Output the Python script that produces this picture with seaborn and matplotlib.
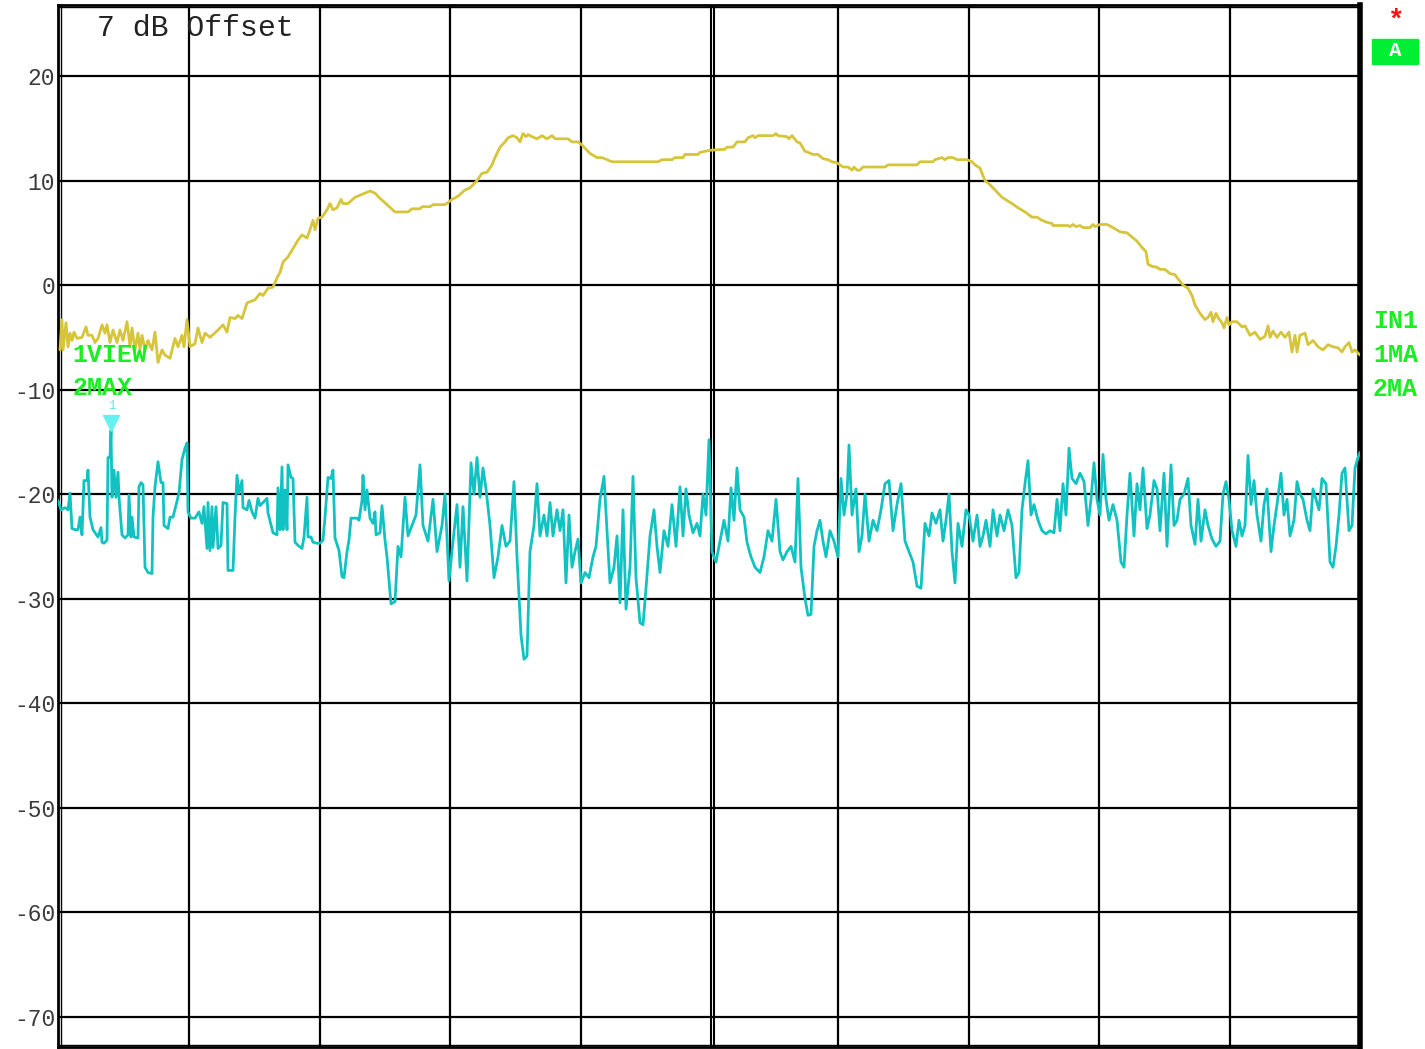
import numpy as np
import pandas as pd
import matplotlib
matplotlib.use("Agg")
import matplotlib.pyplot as plt
import seaborn as sns

# ---------------- data ----------------
# sweep position (screen column units) and level in dB
yellow_x = [60, 62, 63, 66, 68, 70, 72, 74, 77, 82, 86, 88, 92, 95, 98, 102, 105, 107, 110, 113, 117, 120, 123, 127,
            130, 132, 135, 138, 140, 142, 145, 148, 152, 155, 158, 162, 165, 170, 175, 178, 182, 184, 187, 190, 195,
            198, 202, 205, 210, 218, 223, 227, 230, 235, 238, 242, 247, 255, 260, 263, 268, 273, 277, 280, 283, 288,
            293, 298, 302, 307, 310, 313, 315, 318, 322, 327, 330, 333, 337, 341, 343, 348, 355, 360, 365, 370, 375,
            380, 387, 395, 408, 412, 420, 422, 430, 433, 445, 448, 452, 458, 465, 470, 477, 482, 487, 492, 495, 500,
            505, 508, 513, 517, 520, 523, 526, 528, 532, 537, 542, 547, 552, 555, 568, 572, 578, 582, 590, 597, 602,
            607, 612, 658, 662, 672, 675, 683, 685, 698, 700, 710, 725, 727, 733, 737, 745, 748, 753, 755, 758, 773,
            776, 778, 787, 789, 792, 797, 800, 805, 808, 813, 818, 823, 828, 832, 837, 840, 843, 848, 852, 854, 857,
            860, 863, 885, 888, 917, 920, 933, 935, 942, 945, 948, 953, 957, 967, 972, 975, 980, 982, 985, 990, 997,
            1002, 1007, 1012, 1018, 1025, 1032, 1037, 1042, 1047, 1052, 1053, 1068, 1070, 1073, 1076, 1080, 1083,
            1090, 1093, 1095, 1100, 1107, 1113, 1120, 1127, 1132, 1137, 1142, 1146, 1148, 1152, 1157, 1160, 1165,
            1170, 1175, 1178, 1183, 1188, 1192, 1195, 1200, 1205, 1208, 1211, 1213, 1216, 1218, 1222, 1224, 1227,
            1229, 1232, 1237, 1242, 1245, 1250, 1255, 1260, 1265, 1268, 1270, 1273, 1277, 1281, 1285, 1289, 1292,
            1295, 1297, 1300, 1305, 1308, 1313, 1318, 1323, 1328, 1333, 1338, 1342, 1345, 1349, 1352, 1355, 1360]
yellow_db = [-6.2, -3.3, -6.2, -3.6, -5.9, -4.6, -5.3, -4.5, -5.1, -5.0, -4.0, -4.8, -4.8, -5.5, -5.1, -3.8, -4.6, -3.8,
             -5.5, -4.3, -5.5, -4.3, -5.3, -3.5, -5.9, -4.1, -6.2, -4.6, -6.2, -4.8, -6.2, -5.3, -6.2, -4.5, -7.4,
             -6.2, -6.7, -7.0, -5.1, -5.9, -4.8, -5.9, -3.3, -5.9, -5.6, -4.1, -5.5, -4.6, -5.0, -4.3, -3.8, -4.5,
             -3.1, -3.2, -2.9, -3.2, -1.7, -1.4, -0.8, -1.0, -0.3, -0.2, 0.7, 1.2, 2.2, 2.7, 3.5, 4.3, 4.8, 4.5, 5.3,
             6.2, 5.3, 6.4, 6.5, 7.2, 7.8, 7.2, 7.4, 8.2, 7.8, 7.8, 8.4, 8.6, 8.8, 9.0, 8.8, 8.3, 7.7, 7.0, 7.0, 7.3,
             7.3, 7.5, 7.5, 7.7, 7.7, 7.9, 8.2, 8.5, 9.1, 9.3, 10.0, 10.7, 10.8, 11.5, 12.2, 13.2, 13.7, 14.1, 14.3,
             14.1, 13.7, 14.5, 14.2, 14.4, 14.2, 14.0, 14.3, 14.0, 14.3, 14.0, 14.0, 13.7, 13.7, 13.4, 12.6, 12.2,
             12.2, 12.0, 11.8, 11.8, 12.0, 12.0, 12.2, 12.2, 12.5, 12.5, 12.7, 12.9, 13.0, 13.2, 13.2, 13.7, 13.7,
             14.1, 14.3, 14.1, 14.3, 14.3, 14.5, 14.3, 14.2, 14.0, 14.3, 13.7, 13.6, 12.8, 12.7, 12.5, 12.5, 12.1,
             12.0, 11.8, 11.7, 11.5, 11.3, 11.3, 11.0, 11.3, 11.0, 11.0, 11.3, 11.3, 11.5, 11.5, 11.8, 11.8, 12.0,
             12.2, 12.0, 12.2, 12.2, 12.0, 12.0, 11.8, 11.5, 11.2, 10.7, 10.0, 9.6, 8.9, 8.4, 8.1, 7.8, 7.4, 7.0,
             6.5, 6.5, 6.2, 6.0, 5.9, 5.7, 5.7, 5.6, 5.8, 5.6, 5.7, 5.5, 5.5, 5.8, 5.6, 5.8, 5.8, 5.5, 5.1, 5.0, 4.6,
             4.2, 3.6, 3.2, 2.0, 1.8, 1.7, 1.5, 1.5, 1.1, 1.0, 0.6, 0.0, -0.3, -1.0, -1.9, -2.7, -3.3, -3.1, -2.6,
             -3.5, -2.7, -3.1, -3.6, -4.1, -3.1, -3.8, -3.5, -3.5, -4.0, -3.9, -4.8, -4.5, -5.2, -4.9, -3.9, -5.0,
             -4.4, -5.0, -4.5, -5.0, -4.5, -6.4, -4.8, -6.4, -4.8, -4.6, -5.7, -5.3, -5.9, -6.2, -5.7, -5.9, -6.0,
             -6.4, -5.9, -5.5, -6.4, -6.2, -6.7]

cyan_x = [58, 61, 65, 68, 70, 72, 75, 78, 80, 82, 84, 87, 88, 90, 93, 98, 101, 102, 104, 107, 108, 110, 111, 112, 114,
          116, 118, 119, 122, 125, 128, 129, 131, 132, 134, 138, 139, 141, 143, 145, 148, 152, 153, 155, 158, 161, 163,
          164, 168, 170, 173, 179, 182, 185, 187, 188, 191, 195, 199, 202, 204, 207, 208, 210, 212, 213, 216, 218, 221,
          223, 227, 228, 232, 233, 235, 237, 239, 242, 243, 247, 249, 252, 255, 258, 260, 263, 267, 268, 273, 277, 278,
          280, 282, 283, 285, 287, 288, 291, 293, 295, 298, 302, 304, 307, 308, 311, 313, 317, 320, 323, 325, 328, 331,
          333, 335, 339, 342, 344, 347, 349, 351, 357, 359, 362, 363, 365, 367, 370, 373, 375, 376, 380, 382, 385,
          387, 391, 395, 398, 401, 405, 408, 412, 416, 420, 423, 428, 433, 437, 442, 445, 449, 453, 457, 460, 463, 467,
          471, 474, 477, 480, 483, 486, 490, 494, 498, 502, 506, 510, 514, 517, 521, 524, 527, 530, 534, 537, 540, 544,
          547, 550, 553, 557, 560, 563, 566, 569, 572, 575, 578, 581, 585, 589, 593, 596, 600, 604, 607, 610, 614, 617,
          620, 623, 626, 630, 633, 636, 640, 643, 646, 650, 654, 657, 660, 664, 668, 672, 676, 680, 683, 686, 689, 693,
          697, 700, 703, 706, 709, 712, 716, 720, 724, 728, 731, 734, 737, 740, 744, 747, 751, 755, 760, 764, 768, 772,
          776, 780, 783, 787, 791, 795, 798, 801, 805, 808, 811, 814, 817, 820, 823, 826, 830, 834, 838, 841, 844, 847,
          849, 852, 856, 859, 862, 865, 869, 873, 877, 881, 885, 889, 893, 897, 901, 905, 909, 913, 917, 921, 925, 929,
          932, 936, 940, 943, 946, 949, 952, 955, 958, 962, 966, 969, 973, 977, 980, 983, 986, 990, 993, 997, 1000,
          1004, 1008, 1012, 1016, 1019, 1022, 1025, 1028, 1031, 1034, 1038, 1042, 1046, 1050, 1054, 1057, 1060, 1063,
          1066, 1069, 1072, 1076, 1080, 1084, 1088, 1091, 1094, 1097, 1100, 1103, 1106, 1109, 1113, 1117, 1121, 1124,
          1127, 1130, 1134, 1137, 1140, 1143, 1147, 1150, 1154, 1157, 1160, 1164, 1167, 1171, 1174, 1177, 1180, 1184,
          1188, 1191, 1195, 1198, 1201, 1205, 1208, 1212, 1216, 1220, 1223, 1226, 1229, 1232, 1236, 1239, 1242, 1245,
          1248, 1251, 1254, 1257, 1261, 1264, 1267, 1271, 1274, 1277, 1281, 1284, 1287, 1290, 1294, 1297, 1300, 1303,
          1307, 1310, 1313, 1316, 1319, 1322, 1326, 1330, 1333, 1336, 1339, 1342, 1345, 1349, 1352, 1355, 1358, 1360]
cyan_db = [-20.6, -21.5, -21.3, -21.5, -19.9, -23.3, -23.4, -23.4, -22.2, -23.9, -18.7, -18.7, -17.7, -22.2, -23.4,
           -24.1, -23.2, -24.6, -24.7, -24.4, -16.5, -16.5, -13.9, -20.3, -17.7, -20.3, -17.9, -20.3, -23.9, -24.2,
           -23.9, -20.1, -24.1, -22.2, -24.1, -24.2, -19.3, -18.9, -19.1, -27.0, -27.5, -27.6, -22.2, -19.3, -16.9,
           -18.9, -18.9, -23.0, -23.3, -22.2, -22.2, -19.9, -16.7, -15.6, -15.1, -21.7, -22.3, -22.3, -21.7, -22.8,
           -21.2, -25.2, -20.8, -25.4, -21.2, -25.1, -21.2, -25.2, -24.9, -20.8, -20.9, -27.3, -27.3, -27.3, -22.2,
           -18.2, -19.9, -18.7, -21.3, -21.5, -20.6, -21.7, -22.3, -20.4, -21.1, -20.8, -20.4, -21.8, -23.7, -23.9,
           -19.4, -23.4, -17.4, -23.4, -19.6, -23.4, -17.2, -18.4, -18.5, -24.6, -24.9, -25.2, -24.1, -20.3, -24.1,
           -24.1, -24.6, -24.7, -24.7, -24.4, -22.2, -18.4, -18.5, -17.7, -24.2, -25.4, -27.9, -28.0, -25.5, -24.4,
           -22.3, -22.3, -22.5, -20.6, -18.2, -21.5, -19.6, -22.3, -22.8, -21.7, -23.9, -23.7, -21.1, -24.4,
           -26.0, -30.5, -30.3, -25.0, -26.0, -20.3, -24.0, -23.0, -22.0, -17.2, -23.0, -24.5, -20.5, -25.5, -23.0,
           -20.0, -28.3, -24.5, -21.0, -27.0, -21.2, -28.3, -17.0, -20.0, -16.5, -20.3, -17.5, -19.5, -23.0, -28.0,
           -26.0, -23.0, -25.0, -24.5, -18.8, -26.0, -33.5, -35.8, -35.5, -25.5, -23.0, -19.0, -24.0, -22.0, -24.0,
           -20.8, -24.0, -21.5, -23.5, -21.5, -28.5, -22.0, -27.0, -25.5, -24.3, -28.5, -27.5, -28.0, -26.0, -25.0,
           -20.5, -18.3, -23.5, -28.5, -27.0, -24.0, -30.4, -21.5, -31.0, -27.0, -18.3, -28.0, -32.3, -32.5, -29.0,
           -24.0, -21.5, -25.0, -27.5, -23.5, -25.0, -21.0, -25.0, -19.3, -24.0, -19.5, -22.0, -23.7, -22.8, -24.0,
           -20.0, -22.0, -14.8, -25.5, -26.5, -24.5, -22.5, -24.5, -19.4, -22.5, -17.5, -21.5, -22.2, -24.6, -26.0,
           -27.0, -27.5, -26.0, -23.5, -24.5, -20.5, -25.5, -26.3, -25.5, -25.0, -26.5, -18.5, -27.0, -30.0, -31.6,
           -31.5, -25.0, -23.5, -22.5, -24.5, -26.0, -23.5, -24.5, -26.0, -18.5, -22.0, -20.0, -15.3, -22.0, -19.5,
           -25.5, -24.0, -20.0, -24.5, -22.5, -23.5, -21.5, -19.0, -18.7, -23.5, -21.0, -19.0, -24.5, -25.5, -26.5,
           -28.8, -29.0, -22.8, -24.0, -21.8, -22.8, -21.5, -24.5, -22.5, -20.0, -25.5, -28.5, -22.8, -25.0, -21.5,
           -22.0, -24.5, -22.0, -25.0, -24.0, -22.5, -25.0, -21.5, -24.0, -22.0, -23.5, -21.5, -23.0, -28.0, -27.5,
           -21.5, -19.0, -16.8, -22.0, -21.0, -22.5, -23.5, -23.8, -23.5, -23.7, -20.5, -23.5, -19.0, -22.0, -15.6,
           -18.5, -19.0, -18.0, -18.8, -23.0, -20.5, -17.0, -20.5, -22.0, -16.2, -20.5, -22.5, -21.0, -22.5, -26.5,
           -27.0, -22.0, -18.0, -24.0, -19.0, -21.5, -17.5, -23.3, -22.0, -18.7, -19.5, -23.5, -18.0, -25.0, -17.2,
           -23.0, -22.5, -20.5, -20.0, -18.5, -23.0, -24.8, -20.5, -24.5, -21.5, -23.0, -24.3, -25.0, -24.5, -20.0,
           -18.8, -20.5, -23.5, -25.0, -22.5, -24.0, -23.0, -16.3, -21.0, -18.7, -22.0, -24.5, -21.0, -19.5, -25.5,
           -23.0, -21.0, -18.0, -22.0, -20.5, -24.0, -22.5, -18.8, -20.0, -20.5, -22.5, -23.5, -19.5, -20.5, -21.5,
           -18.5, -19.0, -26.5, -27.0, -25.0, -22.0, -18.0, -17.5, -23.5, -23.0, -17.5, -16.5, -16.0]

y_ticks = [20, 10, 0, -10, -20, -30, -40, -50, -60, -70]
y_tick_labels = ["20", "10", "0", "-10", "-20", "-30", "-40", "-50", "-60", "-70"]
x_grid = [189, 320, 450, 581, 838, 969, 1099, 1230]
x_center = 712

marker_x = 111
marker_db = -13.2

offset_text = "7 dB Offset"
left_labels = ["1VIEW", "2MAX"]
right_labels = ["IN1", "1MA", "2MA"]

# ---------------- figure ----------------
sns.set_style("white")
plt.rcParams["font.family"] = ["Liberation Mono", "DejaVu Sans Mono"]

W, H = 1425, 1049
fig = plt.figure(figsize=(W / 100, H / 100), dpi=100)
ax = fig.add_axes([58 / W, 1 - 1047 / H, (1360 - 58) / W, (1047 - 5) / H])

YTOP, YBOT = 26.8, -72.9
ax.set_xlim(58, 1360)
ax.set_ylim(YBOT, YTOP)

# grid
for gx in x_grid:
    ax.axvline(gx, color="black", lw=1.6, zorder=1)
ax.axvline(x_center - 1.5, color="black", lw=1.5, zorder=1)
ax.axvline(x_center + 1.8, color="black", lw=1.5, zorder=1)
for gy in y_ticks:
    ax.axhline(gy, color="black", lw=1.6, zorder=1)

# traces
ydf = pd.DataFrame({"x": yellow_x, "db": yellow_db})
cdf = pd.DataFrame({"x": cyan_x, "db": cyan_db})
sns.lineplot(data=ydf, x="x", y="db", ax=ax, color="#d6c53a", lw=2.0, sort=False, estimator=None, zorder=3)
sns.lineplot(data=cdf, x="x", y="db", ax=ax, color="#11c2c2", lw=2.0, sort=False, estimator=None, zorder=3)

# marker
ax.plot([marker_x], [marker_db], marker="v", markersize=12, color="#66f0f0", mec="#66f0f0", zorder=4)
ax.text(marker_x + 1, marker_db + 1.6, "1", color="#66e8e8", fontsize=9, ha="center", va="center", zorder=4)

ax.set_xlabel("")
ax.set_ylabel("")
ax.set_xticks([])
ax.set_yticks(y_ticks)
ax.set_yticklabels(y_tick_labels, fontsize=16.5, color="#3a3a3a")
ax.tick_params(axis="y", length=0, pad=2)

for s in ax.spines.values():
    s.set_visible(True)
    s.set_color("black")
    s.set_linewidth(2.0)
ax.spines["right"].set_linewidth(4.0)
# inner frame lines (double border)
ax.axvline(61, color="black", lw=1.0, zorder=2)
ax.axhline(YTOP - 0.22, color="black", lw=1.0, zorder=2)
ax.axhline(YBOT + 0.22, color="black", lw=1.0, zorder=2)

def fx(px):
    return px / W

def fy(py):
    return 1 - py / H

fig.text(fx(97), fy(28), offset_text, fontsize=21.5, color="#222222", ha="left", va="center")
green = "#19ee22"
fig.text(fx(72), fy(355), left_labels[0], fontsize=18, fontweight="bold", color=green, ha="left", va="center")
fig.text(fx(72), fy(388), left_labels[1], fontsize=18, fontweight="bold", color=green, ha="left", va="center")
for lbl, py in zip(right_labels, [321, 355, 389]):
    fig.text(fx(1373), fy(py), lbl, fontsize=18, fontweight="bold", color=green, ha="left", va="center")

fig.text(fx(1395), fy(21), "*", fontsize=20, fontweight="bold", color="#ff1111", ha="center", va="center")
fig.patches.append(matplotlib.patches.Rectangle((fx(1372), fy(64)), (1418 - 1372) / W, (64 - 39) / H,
                                                transform=fig.transFigure, color="#00ee33", zorder=5))
fig.text(fx(1395), fy(51), "A", fontsize=15, fontweight="bold", color="white", ha="center", va="center", zorder=6)

fig.savefig("out.png", dpi=100, facecolor="white")
